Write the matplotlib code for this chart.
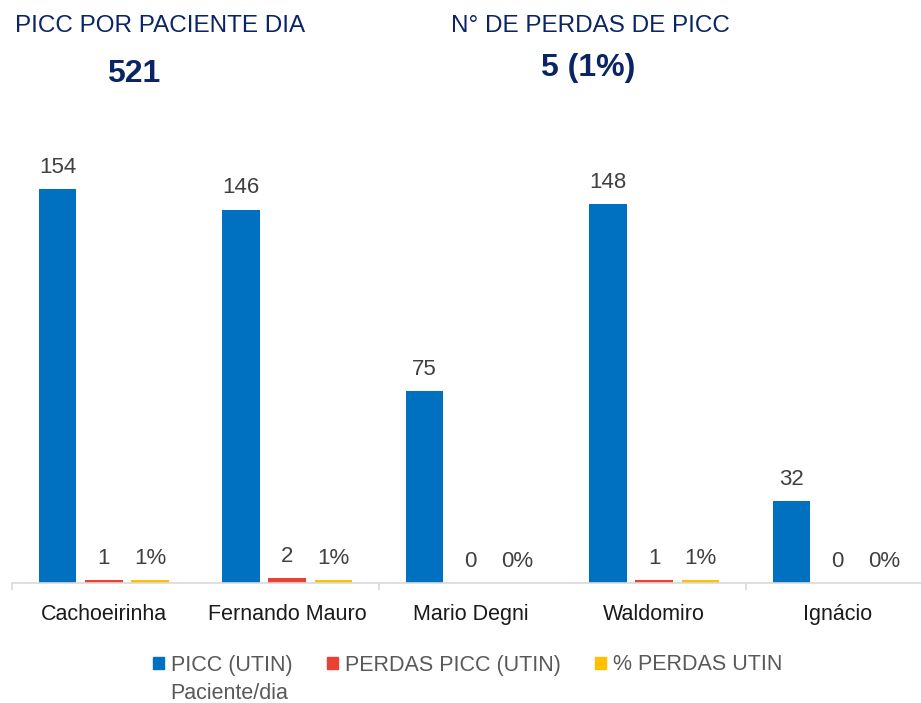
import matplotlib
matplotlib.use('Agg')
import matplotlib.pyplot as plt
from matplotlib.patches import Patch
import numpy as np

########################################################################
            # Dados do grafico

unidades = ['Cachoeirinha', 'Fernando Mauro', 'Mario Degni', 'Waldomiro', 'Ignácio']
picc_paciente_dia = [154, 146, 75, 148, 32]
perdas_picc = [1, 2, 0, 1, 0]
perc_perdas = [1, 1, 0, 1, 0]

total_picc = 521
total_perdas = 5
perc_total = 1

azul = '#0070C0'
vermelho = '#E94235'
amarelo = '#FFC000'
marinho = '#0B2466'

plt.rcParams['font.family'] = ['Liberation Sans', 'DejaVu Sans']

########################################################################
            # Grafico PICC por unidade

fig = plt.figure(figsize=(9.21, 7.03), dpi=100)
ax = fig.add_axes([12 / 921, 120 / 703, 1 - 12 / 921, 463 / 703])

x = np.arange(len(unidades))
desloc = 0.252
largura = 0.205

b1 = ax.bar(x - desloc, picc_paciente_dia, largura, color=azul)
b2 = ax.bar(x, perdas_picc, largura, color=vermelho)
b3 = ax.bar(x + desloc, perc_perdas, largura, color=amarelo)

for barras, rotulos in [(b1, [str(v) for v in picc_paciente_dia]),
                        (b2, [str(v) for v in perdas_picc]),
                        (b3, [f'{v}%' for v in perc_perdas])]:
    ax.bar_label(barras, labels=rotulos, padding=8, fontsize=16, color='#404040')

ax.set_xlim(-0.5, -0.5 + 909 / 183.5)
ax.set_ylim(0, 181)

ax.set_xticks(x)
ax.set_xticklabels(unidades, fontsize=15.5, color='#1a1a1a')
ax.set_xticks([-0.5, 1.5, 3.5], minor=True)
ax.tick_params(axis='x', which='major', length=0, pad=15)
ax.tick_params(axis='x', which='minor', length=5, width=1.2, color='#d9d9d9', direction='out')
ax.set_yticks([])

for lado in ['left', 'right', 'top']:
    ax.spines[lado].set_visible(False)
ax.spines['bottom'].set_color('#d9d9d9')
ax.spines['bottom'].set_linewidth(1.2)

# titulos
fig.text(160 / 921, 1 - 32 / 703, 'PICC POR PACIENTE DIA', ha='center', va='baseline',
         fontsize=17.5, color=marinho)
fig.text(134 / 921, 1 - 82 / 703, f'{total_picc}', ha='center', va='baseline',
         fontsize=23, fontweight='bold', color=marinho)
fig.text(590 / 921, 1 - 32 / 703, 'N° DE PERDAS DE PICC', ha='center', va='baseline',
         fontsize=17.5, color=marinho)
fig.text(588 / 921, 1 - 76 / 703, f'{total_perdas} ({perc_total}%)', ha='center', va='baseline',
         fontsize=23, fontweight='bold', color=marinho)

# legenda
handles = [Patch(color=azul, label='PICC (UTIN)'),
           Patch(color=vermelho, label='PERDAS PICC (UTIN)'),
           Patch(color=amarelo, label='% PERDAS UTIN')]
fig.legend(handles=handles, loc='center left', bbox_to_anchor=(153 / 921, 1 - 665 / 703),
           ncol=3, frameon=False, fontsize=15.5, handlelength=0.5, handleheight=0.5,
           handletextpad=0.33, columnspacing=1.6, borderpad=0, borderaxespad=0,
           labelcolor='#595959')
fig.text(170 / 921, 1 - 699 / 703, 'Paciente/dia', ha='left', va='baseline',
         fontsize=15.5, color='#595959')

fig.savefig('out.png', dpi=100)
plt.close(fig)
